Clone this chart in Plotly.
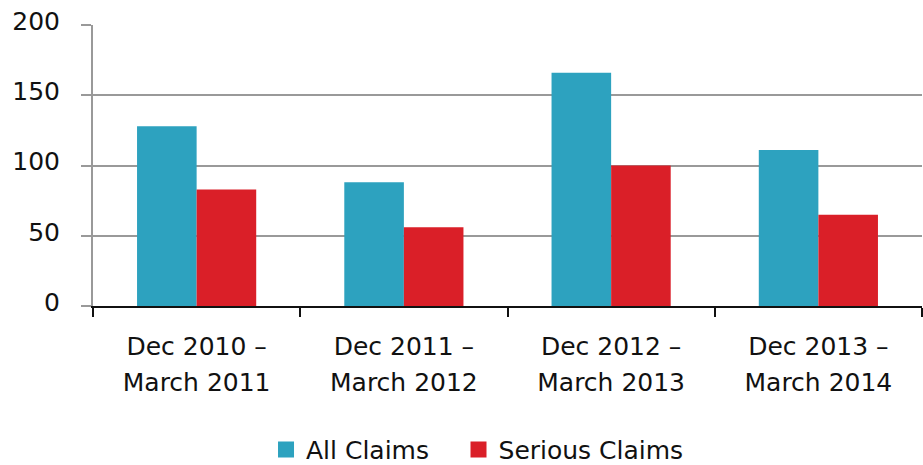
import plotly.graph_objects as go

line1 = ["Dec 2010 –", "Dec 2011 –", "Dec 2012 –", "Dec 2013 –"]
line2 = ["March 2011", "March 2012", "March 2013", "March 2014"]
categories = [f"<span style='font-size:25px'>{a}</span><br><span style='font-size:25px'>{b}</span>"
              for a, b in zip(line1, line2)]
all_claims = [128, 88, 166, 111]
serious_claims = [83, 56, 100, 65]
y_ticks = [0, 50, 100, 150, 200]

FONT = "DejaVu Sans"
TEAL = "#2DA2BF"
RED = "#DA1F28"

fig = go.Figure()
fig.add_trace(go.Bar(name="All Claims", x=categories, y=all_claims, showlegend=False,
                     marker=dict(color=TEAL, line=dict(width=0))))
fig.add_trace(go.Bar(name="Serious Claims", x=categories, y=serious_claims, showlegend=False,
                     marker=dict(color=RED, line=dict(width=0))))
# legend swatches (larger square symbols)
fig.add_trace(go.Scatter(name="All Claims", x=[categories[0]], y=[None], mode="markers",
                         marker=dict(symbol="square", size=16, color=TEAL), showlegend=True,
                         legend="legend"))
fig.add_trace(go.Scatter(name="Serious Claims", x=[categories[0]], y=[None], mode="markers",
                         marker=dict(symbol="square", size=16, color=RED), showlegend=True,
                         legend="legend2"))

legend_common = dict(orientation="h", xanchor="left", y=-0.512, yanchor="middle",
                     font=dict(size=25, family=FONT), itemwidth=30,
                     itemsizing="trace", bgcolor="rgba(0,0,0,0)")

fig.update_layout(
    width=923, height=465,
    margin=dict(l=93, r=1, t=25, b=159, autoexpand=False),
    paper_bgcolor="white", plot_bgcolor="white",
    barmode="group", bargap=0.425, bargroupgap=0,
    font=dict(family=FONT, color="#111111", size=25),
    showlegend=True,
    legend=dict(x=0.2087, **legend_common),
    legend2=dict(x=0.4409, **legend_common),
    xaxis=dict(showline=True, linecolor="#111111", linewidth=2, automargin=False,
               ticks="outside", tickson="boundaries", ticklen=9, tickcolor="#111111",
               tickwidth=2, tickfont=dict(size=28, family=FONT), ticklabelstandoff=13,
               showgrid=False, zeroline=False),
    yaxis=dict(range=[0, 200], tickvals=y_ticks, showline=True, linecolor="#999999",
               linewidth=2, showgrid=True, gridcolor="#999999", gridwidth=2,
               ticks="outside", ticklen=10, tickcolor="#999999", tickwidth=2,
               tickfont=dict(size=25, family=FONT), ticklabelstandoff=16,
               ticklabelshift=-4, zeroline=False, automargin=False),
)

fig.write_html("out.html", config={"displayModeBar": False},
               post_script="document.body.style.margin='0';")
